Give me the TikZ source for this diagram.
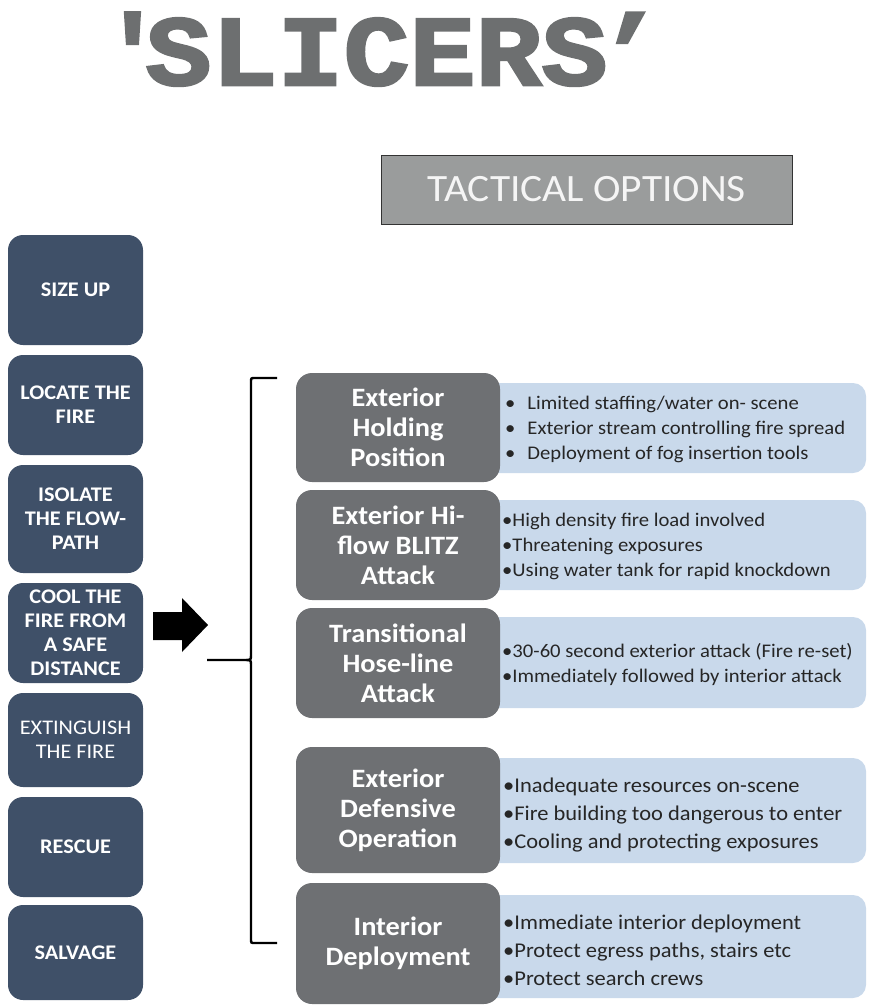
\documentclass[tikz,border=0pt]{standalone}
\usepackage{fontspec}
\setmainfont[FakeStretch=1.07]{Carlito}
\newfontfamily\titlefont[Ligatures=TeXOff, FakeBold=2.5, FakeStretch=1.1]{Liberation Mono Bold}
\definecolor{slate}{HTML}{3F5068}
\definecolor{darkgray}{HTML}{6E7073}
\definecolor{lightblue}{HTML}{C9D9EB}
\definecolor{titlegray}{HTML}{6D6F70}
\definecolor{tacgray}{HTML}{9A9C9C}
\tikzset{
  stepbox/.style={fill=slate, rounded corners=15pt, text=white, font=\bfseries\fontsize{20.8}{24}\selectfont, align=center, minimum width=135pt, inner sep=0pt},
  optbox/.style={fill=darkgray, rounded corners=16pt, text=white, font=\bfseries\fontsize{26.5}{30}\selectfont, align=center, minimum width=204pt, inner sep=0pt},
  infobox/.style={fill=lightblue, rounded corners=13pt, minimum width=386pt, inner sep=0pt},
  infotext/.style={anchor=west, align=left, text=black!85, font=\fontsize{19.3}{25}\selectfont, inner sep=0pt},
  infotextb/.style={anchor=west, align=left, text=black!85, font=\fontsize{21}{28}\selectfont, inner sep=0pt},
}
\begin{document}
\begin{tikzpicture}[x=1pt,y=-1pt]
\useasboundingbox (0,0) rectangle (869,1006);
% title
\node[anchor=base, text=titlegray, font=\titlefont\fontsize{100}{104}\selectfont, inner sep=0pt] (title) at (381.5,85) {'\kern-20pt SLICERS\kern-10pt’};
\node[draw=black!80, line width=1pt, fill=tacgray, minimum width=411pt, minimum height=69pt, inner sep=0pt, text=white!96!black, font=\fontsize{38.7}{40}\selectfont] (tac) at (586.5,189.5) {TACTICAL OPTIONS};
% left column
\node[stepbox, minimum height=110pt] (s1) at (75.5,290) {SIZE UP};
\node[stepbox, minimum height=100pt] (s2) at (75.5,405) {LOCATE THE\\FIRE};
\node[stepbox, minimum height=108pt] (s3) at (75.5,519) {ISOLATE\\THE FLOW-\\PATH};
\node[stepbox, minimum height=100pt] (s4) at (75.5,633) {COOL THE\\FIRE FROM\\A SAFE\\DISTANCE};
\node[stepbox, minimum height=94pt, font=\fontsize{20.8}{24}\selectfont] (s5) at (75.5,740) {EXTINGUISH\\THE FIRE};
\node[stepbox, minimum height=100pt] (s6) at (75.5,847) {RESCUE};
\node[stepbox, minimum height=95pt] (s7) at (75.5,952.5) {SALVAGE};
% arrow
\fill[black] (153,612) -- (182,612) -- (182,598) -- (208,625) -- (182,652) -- (182,640) -- (153,640) -- cycle;
% bracket
\coordinate (bt) at (277,378);
\coordinate (bb) at (277,943);
\coordinate (bm) at (207,660);
\draw[line width=2.4pt] (bt) -- (255,378) .. controls (251,378) .. (251,382) -- (251,654) .. controls (251,660) .. (246,660) -- (bm);
\draw[line width=2.4pt] (246,660) .. controls (251,660) .. (251,666) -- (251,939) .. controls (251,943) .. (255,943) -- (bb);
% info boxes
\node[infobox, minimum height=90pt] (i1) at (673,428) {};
\node[infobox, minimum height=90pt] (i2) at (673,545) {};
\node[infobox, minimum height=91pt] (i3) at (673,662.5) {};
\node[infobox, minimum height=105pt] (i4) at (673,810.5) {};
\node[infobox, minimum height=103pt] (i5) at (673,946.5) {};
% option boxes
\node[optbox, minimum height=109pt] (o1) at (398,427.5) {Exterior\\Holding\\Position};
\node[optbox, minimum height=110pt] (o2) at (398,545) {Exterior Hi-\\flow BLITZ\\Attack};
\node[optbox, minimum height=110pt] (o3) at (398,663) {Transitional\\Hose-line\\Attack};
\node[optbox, minimum height=126pt] (o4) at (398,810) {Exterior\\Defensive\\Operation};
\node[optbox, minimum height=121pt] (o5) at (398,943.5) {Interior\\Deployment};
% info text
\node[infotext] (t1) at (505,429) {\textbullet\hspace{12pt}Limited staffing/water on- scene\\\textbullet\hspace{12pt}Exterior stream controlling fire spread\\\textbullet\hspace{12pt}Deployment of fog insertion tools};
\node[infotext] (t2) at (502,546) {\textbullet High density fire load involved\\\textbullet Threatening exposures\\\textbullet Using water tank for rapid knockdown};
\node[infotext] (t3) at (502,664) {\textbullet 30-60 second exterior attack (Fire re-set)\\\textbullet Immediately followed by interior attack};
\node[infotextb] (t4) at (503,815) {\textbullet Inadequate resources on-scene\\\textbullet Fire building too dangerous to enter\\\textbullet Cooling and protecting exposures};
\node[infotextb] (t5) at (503,950) {\textbullet Immediate interior deployment\\\textbullet Protect egress paths, stairs etc\\\textbullet Protect search crews};
\end{tikzpicture}
\end{document}
